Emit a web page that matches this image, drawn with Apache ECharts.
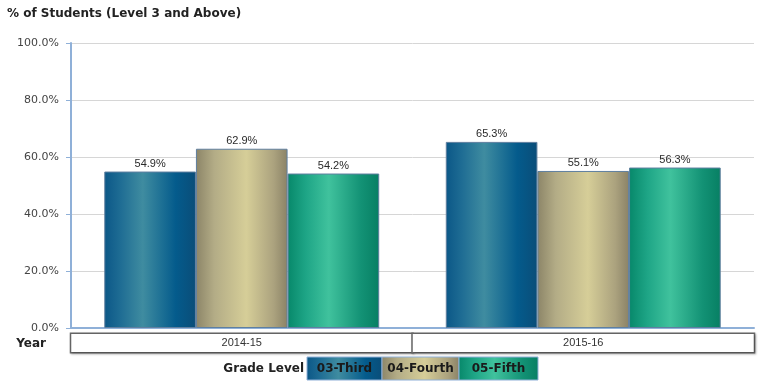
<!DOCTYPE html>
<html>
<head>
<meta charset="utf-8">
<script src="https://cdn.jsdelivr.net/npm/echarts@6/dist/echarts.min.js"></script>
<style>
  html, body { margin: 0; padding: 0; background: #fff; }
  #chart { width: 758px; height: 383px; }
</style>
</head>
<body>
<div id="chart"></div>
<script>
// School years on the x axis
const years = ['2014-15', '2015-16'];
// Grade levels (one series each)
const grades = ['03-Third', '04-Fourth', '05-Fifth'];
// % of students at Level 3 and above, per grade, per year
const third = [54.9, 65.3];
const fourth = [62.9, 55.1];
const fifth = [54.2, 56.3];
// Y axis ticks
const yTicks = [0, 20, 40, 60, 80, 100];

const seriesValues = [third, fourth, fifth];

// Horizontal "cylinder" shading for each grade
function shade(stops) {
  return new echarts.graphic.LinearGradient(0, 0, 1, 0,
    stops.map(([offset, color]) => ({ offset, color })));
}
const fills = [
  () => shade([[0, '#0b5787'], [0.18, '#1f6d94'], [0.42, '#3f8ca0'], [0.78, '#045b8c'], [1, '#0a4d78']]),
  () => shade([[0, '#8c8568'], [0.2, '#b3ac86'], [0.55, '#d6ce98'], [0.85, '#aba27e'], [1, '#8a8266']]),
  () => shade([[0, '#07886a'], [0.2, '#1ea586'], [0.45, '#40c29d'], [0.8, '#139275'], [1, '#077f63']])
];

const chart = echarts.init(document.getElementById('chart'), null, { renderer: 'canvas' });

const font = 'Liberation Sans, Arial, sans-serif';
const boldFont = 'DejaVu Sans, Verdana, sans-serif';

const series = grades.map((name, i) => ({
  name,
  type: 'bar',
  data: seriesValues[i],
  barGap: '0%',
  barCategoryGap: '19.5%',
  itemStyle: { color: fills[i](), borderColor: '#5f7f9f', borderWidth: 1 },
  label: {
    show: true,
    position: 'top',
    distance: 2,
    formatter: p => p.value.toFixed(1) + '%',
    color: '#2a2a2a',
    fontSize: 11,
    fontFamily: font
  }
}));

// Legend strip: title text plus shaded swatches with names inside
const legendLeft = 307, legendTop = 357, legendH = 23;
const legendWidths = [75, 77, 79];
const legendItems = [];
let lx = legendLeft;
grades.forEach((g, i) => {
  legendItems.push({
    type: 'rect',
    shape: { x: lx, y: legendTop, width: legendWidths[i], height: legendH },
    style: { fill: fills[i](), stroke: '#8fb0d8', lineWidth: 1 }
  });
  legendItems.push({
    type: 'text',
    x: lx + legendWidths[i] / 2,
    y: legendTop + legendH / 2,
    style: {
      text: g, align: 'center', verticalAlign: 'middle',
      fill: '#1a1a1a', font: 'bold 12px ' + boldFont
    }
  });
  lx += legendWidths[i];
});

chart.setOption({
  animation: false,
  title: {
    text: '% of Students (Level 3 and Above)',
    left: 2,
    top: 3,
    textStyle: { fontSize: 12, fontWeight: 'bold', color: '#222', fontFamily: boldFont }
  },
  grid: { left: 71, right: 3, top: 43, bottom: 55, containLabel: false },
  xAxis: {
    type: 'category',
    data: years,
    axisLine: { show: true, lineStyle: { color: '#8fb0d8', width: 2 } },
    axisTick: { show: false },
    axisLabel: {
      interval: 0,
      margin: 6,
      width: 341,
      height: 18,
      lineHeight: 18,
      align: 'center',
      verticalAlign: 'top',
      borderColor: '#666',
      borderWidth: 1.5,
      shadowColor: 'rgba(0,0,0,0.25)',
      shadowBlur: 2,
      shadowOffsetX: 1,
      shadowOffsetY: 1,
      backgroundColor: '#fff',
      color: '#333',
      fontSize: 11,
      fontFamily: font
    }
  },
  yAxis: {
    type: 'value',
    min: yTicks[0],
    max: yTicks[yTicks.length - 1],
    interval: yTicks[1] - yTicks[0],
    axisLine: { show: true, lineStyle: { color: '#8fb0d8', width: 2 } },
    axisTick: { show: true, length: 5, lineStyle: { color: '#8fb0d8' } },
    axisLabel: {
      formatter: v => v.toFixed(1) + '%',
      color: '#444',
      fontSize: 11,
      fontFamily: boldFont,
      margin: 12
    },
    splitLine: { show: true, lineStyle: { color: '#d6d6d6', width: 1 } }
  },
  series,
  graphic: [
    {
      type: 'text',
      x: 46,
      y: 344,
      style: {
        text: 'Year', align: 'right', verticalAlign: 'middle',
        fill: '#222', font: 'bold 12px ' + boldFont
      }
    },
    {
      type: 'text',
      x: 304,
      y: 369,
      style: {
        text: 'Grade Level', align: 'right', verticalAlign: 'middle',
        fill: '#222', font: 'bold 12px ' + boldFont
      }
    },
    ...legendItems
  ]
});
</script>
</body>
</html>
